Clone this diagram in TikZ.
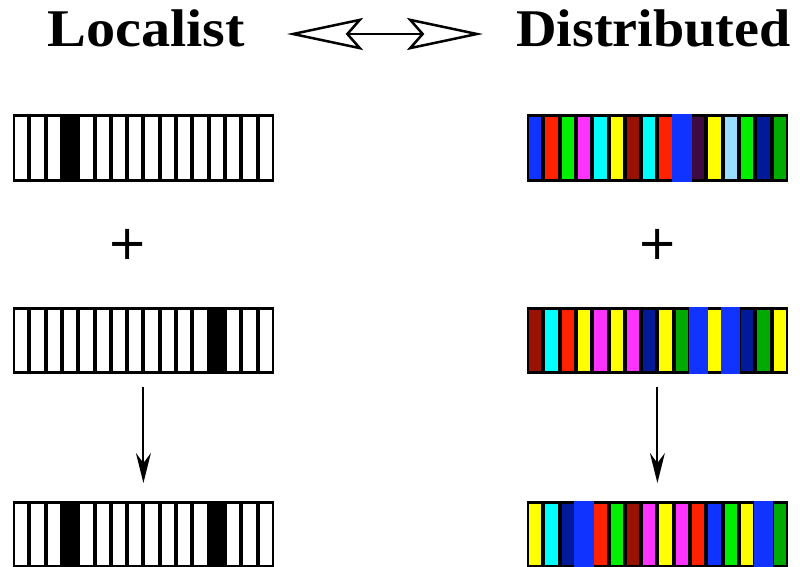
\documentclass[tikz,border=0pt]{standalone}
\usepackage{fontspec}
\setmainfont{Liberation Serif}
\newfontfamily\plusfont{DejaVu Sans}
\usetikzlibrary{arrows.meta}

% cell colours
\definecolor{cblue}{HTML}{1133FF}
\definecolor{cred}{HTML}{FF2200}
\definecolor{cgreen}{HTML}{00EE00}
\definecolor{cmag}{HTML}{FF33FF}
\definecolor{ccyan}{HTML}{00FFFF}
\definecolor{cyel}{HTML}{FFFF00}
\definecolor{cmaroon}{HTML}{991100}
\definecolor{cnavy}{HTML}{001A99}
\definecolor{cpurple}{HTML}{3F0A40}
\definecolor{clight}{HTML}{99DDFF}
\definecolor{cdgreen}{HTML}{00AA00}

\newlength\cellw \setlength\cellw{16.3pt}

% #1 = bar node name, #2 = list of colour/flag pairs (flag 1 = cell without frame)
\newcommand\fillbar[2]{%
  \fill[black] (#1.north west) rectangle (#1.south east);
  \foreach \c/\f [count=\i from 0] in {#2} {
    \ifnum\f=1
      \fill[\c] ([xshift=\i\cellw-1.5pt]#1.north west) rectangle
                ([xshift=\i\cellw+\cellw+1.5pt]#1.south west);
    \else
      \fill[\c] ([xshift=\i\cellw+2pt,yshift=-3pt]#1.north west) rectangle
                ([xshift=\i\cellw+\cellw-2pt,yshift=3pt]#1.south west);
    \fi
  }%
}

\tikzset{
  barbox/.style={minimum width=16\cellw, minimum height=67pt, inner sep=0pt,
                 outer sep=0pt, anchor=north west},
  title/.style={font=\fontsize{53}{60}\selectfont\bfseries, inner sep=0pt, anchor=base west},
  plus/.style={font=\fontsize{48}{50}\selectfont\plusfont, inner sep=0pt},
  down/.style={line width=2pt, -{Stealth[length=30pt,width=15pt,inset=10pt]},
               shorten <=13pt, shorten >=18pt},
  both/.style={line width=1.5pt,
               {Stealth[open,length=76pt,width=32pt,inset=14pt,line width=2.5pt]}-{Stealth[open,length=76pt,width=32pt,inset=14pt,line width=2.5pt]}}
}

\begin{document}
\begin{tikzpicture}[x=1pt,y=-1pt]
\useasboundingbox[fill=white] (0,0) rectangle (800,567);

% headings
\node[title] (tl) at (47,47) {\scalebox{1.1}[1]{Localist}};
\node[title] (td) at (516,47) {\scalebox{1.06}[1]{Distributed}};
\coordinate (al) at (287,34);
\coordinate (ar) at (483,34);
\draw[both] (al) -- (ar);

% localist patterns
\node[barbox] (L1) at (13,114.5) {};
\node[barbox] (L2) at (13,307) {};
\node[barbox] (L3) at (13,501) {};
\fillbar{L1}{white/0,white/0,white/0,black/0,white/0,white/0,white/0,white/0,
  white/0,white/0,white/0,white/0,white/0,white/0,white/0,white/0}
\fillbar{L2}{white/0,white/0,white/0,white/0,white/0,white/0,white/0,white/0,
  white/0,white/0,white/0,white/0,black/0,white/0,white/0,white/0}
\fillbar{L3}{white/0,white/0,white/0,black/0,white/0,white/0,white/0,white/0,
  white/0,white/0,white/0,white/0,black/0,white/0,white/0,white/0}

% distributed patterns
\node[barbox] (D1) at (527,114.5) {};
\node[barbox] (D2) at (527,307) {};
\node[barbox] (D3) at (527,501) {};
\fillbar{D1}{cblue/0,cred/0,cgreen/0,cmag/0,ccyan/0,cyel/0,cmaroon/0,ccyan/0,
  cred/0,cblue/1,cpurple/0,cyel/0,clight/0,cgreen/0,cnavy/0,cdgreen/0}
\fillbar{D2}{cmaroon/0,ccyan/0,cred/0,cyel/0,cmag/0,cyel/0,cmag/0,cnavy/0,
  cyel/0,cdgreen/0,cblue/1,cyel/0,cblue/1,cnavy/0,cdgreen/0,cyel/0}
\fillbar{D3}{cyel/0,ccyan/0,cnavy/0,cblue/1,cred/0,cgreen/0,cmaroon/0,cmag/0,
  cyel/0,cmag/0,cred/0,cblue/0,cgreen/0,cyel/0,cblue/1,cdgreen/0}

% plus signs
\node[plus] (pl) at (128,244) {+};
\node[plus] (pd) at (658,244) {+};

% results
\draw[down] (L2.south) -- (L3.north);
\draw[down] (D2.south) -- (D3.north);
\end{tikzpicture}
\end{document}
